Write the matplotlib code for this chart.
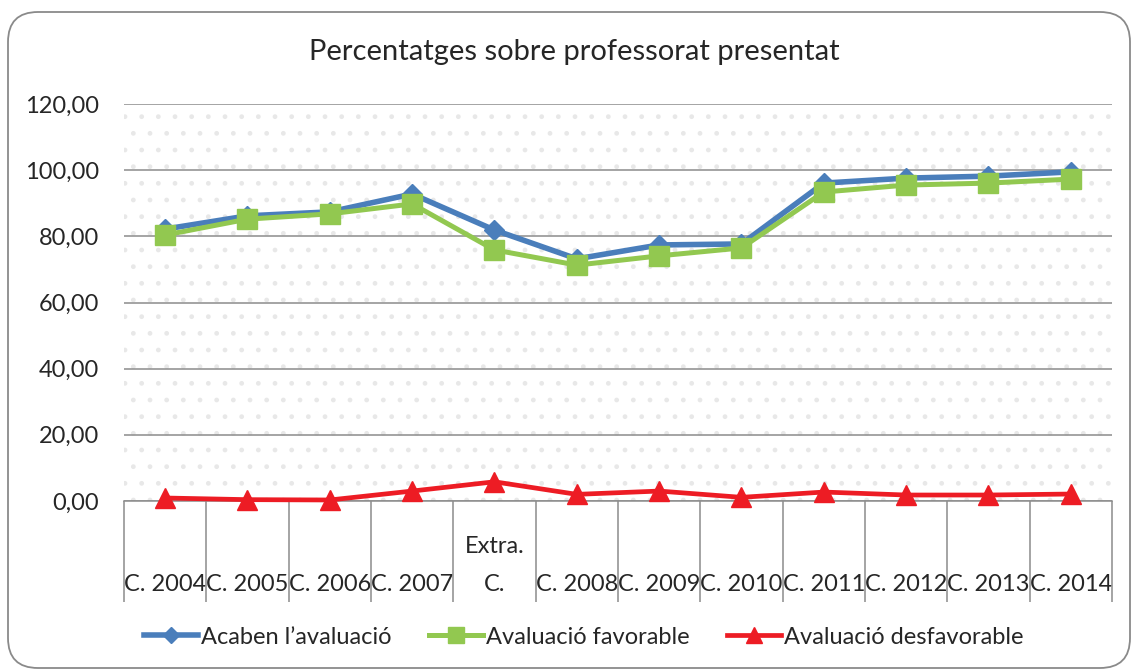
import matplotlib

matplotlib.use("Agg")
import matplotlib.pyplot as plt
from matplotlib.patches import FancyBboxPatch, Rectangle
from matplotlib.ticker import FuncFormatter, FixedLocator
import numpy as np

# Data
CATEGORIES = ["C. 2004", "C. 2005", "C. 2006", "C. 2007", "Extra.\nC.",
              "C. 2008", "C. 2009", "C. 2010", "C. 2011", "C. 2012",
              "C. 2013", "C. 2014"]
ACABEN = [82.2, 86.2, 87.4, 92.8, 81.9, 73.2, 77.4, 77.7, 96.1, 97.6, 98.2, 99.5]
FAVORABLE = [80.4, 85.2, 86.8, 89.8, 75.9, 71.3, 74.1, 76.5, 93.4, 95.5, 96.1, 97.3]
DESFAVORABLE = [0.9, 0.4, 0.3, 3.0, 5.8, 2.0, 3.0, 1.1, 2.7, 1.8, 1.8, 2.1]
SERIES_NAMES = ["Acaben l\u2019avaluació", "Avaluació favorable", "Avaluació desfavorable"]
Y_TICKS = [0, 20, 40, 60, 80, 100, 120]

BLUE = "#4a7ebb"
GREEN = "#92c850"
RED = "#ed1c24"
GRID = "#8c8c8c"
TEXT = "#262626"

plt.rcParams["font.family"] = ["Lato", "DejaVu Sans"]

fig = plt.figure(figsize=(11.31, 6.72), dpi=100)
ax = fig.add_axes([0.1096, 0.2545, 0.8736, 0.5907])

# outer rounded chart border
border = FancyBboxPatch((0.38, 0.34), 10.62, 5.96,
                        boxstyle="round,pad=0.3",
                        transform=fig.dpi_scale_trans,
                        facecolor="none", edgecolor="#8a8a8a", linewidth=1.3)
fig.patches.append(border)

# dotted plot-area fill
ax.add_patch(Rectangle((0, 0), 1, 1, transform=ax.transAxes, facecolor="white",
                       edgecolor="#e8e8e8", linewidth=0, hatch=".", zorder=0))

x = np.arange(len(CATEGORIES))
ax.plot(x, ACABEN, color=BLUE, lw=4.0, marker="D", ms=10, zorder=3,
        label=SERIES_NAMES[0])
ax.plot(x, FAVORABLE, color=GREEN, lw=3.6, marker="s", ms=14, zorder=4,
        label=SERIES_NAMES[1])
ax.plot(x, DESFAVORABLE, color=RED, lw=3.4, marker="^", ms=14, zorder=5,
        label=SERIES_NAMES[2], clip_on=False)

ax.set_xlim(-0.5, len(CATEGORIES) - 0.5)
ax.set_ylim(0, 120)
ax.set_yticks(Y_TICKS)
ax.yaxis.set_major_formatter(FuncFormatter(lambda v, p: f"{v:.2f}".replace(".", ",")))
ax.grid(axis="y", color=GRID, lw=1.1, zorder=1)
ax.set_axisbelow(True)

for s in ["top", "right", "left"]:
    ax.spines[s].set_visible(False)
ax.spines["bottom"].set_color(GRID)
ax.spines["bottom"].set_linewidth(1.1)
ax.spines["bottom"].set_zorder(2)

ax.tick_params(axis="y", length=0, pad=18, labelsize=17, labelcolor=TEXT)

ax.set_xticks(x)
ax.set_xticklabels(CATEGORIES)
ax.xaxis.set_minor_locator(FixedLocator(np.arange(-0.5, len(CATEGORIES), 1.0)))
ax.tick_params(axis="x", which="minor", length=73, width=1.1, color=GRID, direction="out")
ax.tick_params(axis="x", which="major", length=0, pad=68, labelsize=17, labelcolor=TEXT)
for lab in ax.get_xticklabels():
    lab.set_va("bottom")
    lab.set_linespacing(2.0)

fig.text(0.508, 0.922, "Percentatges sobre professorat presentat", ha="center",
         va="center", fontsize=21, color=TEXT)

fig.legend(loc="center", bbox_to_anchor=(0.516, 0.052), ncol=3, frameon=False,
           fontsize=17, handlelength=2.3, handletextpad=0.1, columnspacing=1.6,
           markerscale=0.8, labelcolor=TEXT)

fig.savefig("out.png", dpi=100, facecolor="white")
